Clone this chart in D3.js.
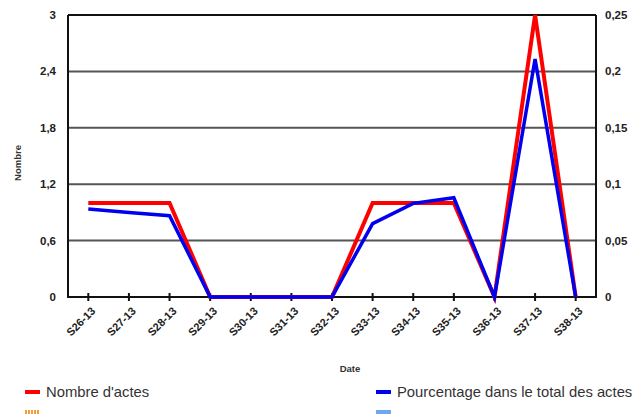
<!DOCTYPE html>
<html>
<head>
<meta charset="utf-8">
<script src="https://cdn.jsdelivr.net/npm/d3@7"></script>
<style>
  html, body { margin: 0; padding: 0; background: #fff; }
  svg { display: block; font-family: "Liberation Sans", Arial, sans-serif; }
</style>
</head>
<body>
<svg id="chart" width="640" height="414"></svg>
<script>
// Weekly categories
const weeks = ["S26-13","S27-13","S28-13","S29-13","S30-13","S31-13","S32-13",
               "S33-13","S34-13","S35-13","S36-13","S37-13","S38-13"];
// Number of acts per week (left axis)
const nombreActes = [1, 1, 1, 0, 0, 0, 0, 1, 1, 1, 0, 3, 0];
// Share of total acts per week (right axis)
const pourcentage = [0.078, 0.075, 0.072, 0, 0, 0, 0, 0.065, 0.083, 0.088, 0, 0.211, 0];
// Axis tick values
const leftTicks = [0, 0.6, 1.2, 1.8, 2.4, 3];
const rightTicks = [0, 0.05, 0.1, 0.15, 0.2, 0.25];

const svg = d3.select("#chart");
const m = { left: 68, right: 596, top: 15, bottom: 297 };

const x = d3.scaleBand().domain(weeks).range([m.left, m.right]);
const cx = d => x(d) + x.bandwidth() / 2;
const yL = d3.scaleLinear().domain([0, 3]).range([m.bottom, m.top]);
const yR = d3.scaleLinear().domain([0, 0.25]).range([m.bottom, m.top]);

const frFmt = v => String(+v.toFixed(2)).replace(".", ",");

// Horizontal grid lines
svg.append("g")
  .selectAll("line")
  .data(leftTicks.filter(t => t > 0 && t < 3))
  .join("line")
  .attr("x1", m.left).attr("x2", m.right)
  .attr("y1", d => yL(d)).attr("y2", d => yL(d))
  .attr("stroke", "#555").attr("stroke-width", 2);

// Frame: top, left, right, bottom
const frame = svg.append("g").attr("stroke", "#111").attr("stroke-width", 2);
frame.append("line").attr("x1", m.left).attr("x2", m.right).attr("y1", yL(3)).attr("y2", yL(3));
frame.append("line").attr("x1", m.left).attr("x2", m.left).attr("y1", m.top).attr("y2", m.bottom);
frame.append("line").attr("x1", m.right).attr("x2", m.right).attr("y1", m.top).attr("y2", m.bottom);
frame.append("line").attr("x1", m.left - 1).attr("x2", m.right + 1).attr("y1", m.bottom).attr("y2", m.bottom);

// Left axis labels
svg.append("g")
  .selectAll("text")
  .data(leftTicks)
  .join("text")
  .attr("x", 56).attr("y", d => yL(d)).attr("dy", "0.35em")
  .attr("text-anchor", "end")
  .attr("font-size", 11.5).attr("font-weight", "bold").attr("fill", "#222")
  .text(d => frFmt(d));

// Right axis labels
svg.append("g")
  .selectAll("text")
  .data(rightTicks)
  .join("text")
  .attr("x", 605).attr("y", d => yR(d)).attr("dy", "0.35em")
  .attr("text-anchor", "start")
  .attr("font-size", 11.5).attr("font-weight", "bold").attr("fill", "#222")
  .text(d => frFmt(d));

// X axis ticks and rotated labels
const xt = svg.append("g");
xt.selectAll("line")
  .data(weeks)
  .join("line")
  .attr("x1", d => cx(d)).attr("x2", d => cx(d))
  .attr("y1", m.bottom - 4).attr("y2", m.bottom + 4)
  .attr("stroke", "#111").attr("stroke-width", 2);
xt.selectAll("text")
  .data(weeks)
  .join("text")
  .attr("transform", d => `translate(${cx(d) + 5},${m.bottom + 12}) rotate(-45)`)
  .attr("text-anchor", "end").attr("dy", "0.35em")
  .attr("font-size", 11).attr("font-weight", "bold").attr("fill", "#222")
  .text(d => d);

// Axis titles
svg.append("text")
  .attr("transform", `translate(18,163) rotate(-90)`)
  .attr("text-anchor", "middle").attr("dy", "0.35em")
  .attr("font-size", 9.5).attr("font-weight", "bold").attr("fill", "#333")
  .text("Nombre");
svg.append("text")
  .attr("x", 350).attr("y", 369).attr("dy", "0.35em")
  .attr("text-anchor", "middle")
  .attr("font-size", 9.5).attr("font-weight", "bold").attr("fill", "#333")
  .text("Date");

// Series lines
const lineL = d3.line().x((d, i) => cx(weeks[i])).y(d => yL(d));
const lineR = d3.line().x((d, i) => cx(weeks[i])).y(d => yR(d));
svg.append("path").datum(nombreActes)
  .attr("d", lineL).attr("fill", "none")
  .attr("stroke", "#ff0000").attr("stroke-width", 4).attr("stroke-linejoin", "miter");
svg.append("path").datum(pourcentage)
  .attr("d", lineR).attr("fill", "none")
  .attr("stroke", "#0000ee").attr("stroke-width", 3.5).attr("stroke-linejoin", "miter");

// Legend
const legend = [
  { label: "Nombre d'actes", color: "#ff0000", x: 25, y: 392, dash: null },
  { label: "Pourcentage dans le total des actes", color: "#0000ee", x: 376, y: 392, dash: null },
  { label: "", color: "#f39c3c", x: 25, y: 412, dash: "2,1" },
  { label: "", color: "#6fa8ee", x: 376, y: 412, dash: null }
];
const lg = svg.append("g").selectAll("g").data(legend).join("g");
lg.append("line")
  .attr("x1", d => d.x).attr("x2", d => d.x + 15)
  .attr("y1", d => d.y).attr("y2", d => d.y)
  .attr("stroke", d => d.color).attr("stroke-width", 4)
  .attr("stroke-dasharray", d => d.dash);
lg.append("text")
  .attr("x", d => d.x + 21).attr("y", d => d.y).attr("dy", "0.35em")
  .attr("font-size", 14.8).attr("fill", "#333")
  .text(d => d.label);
</script>
</body>
</html>
